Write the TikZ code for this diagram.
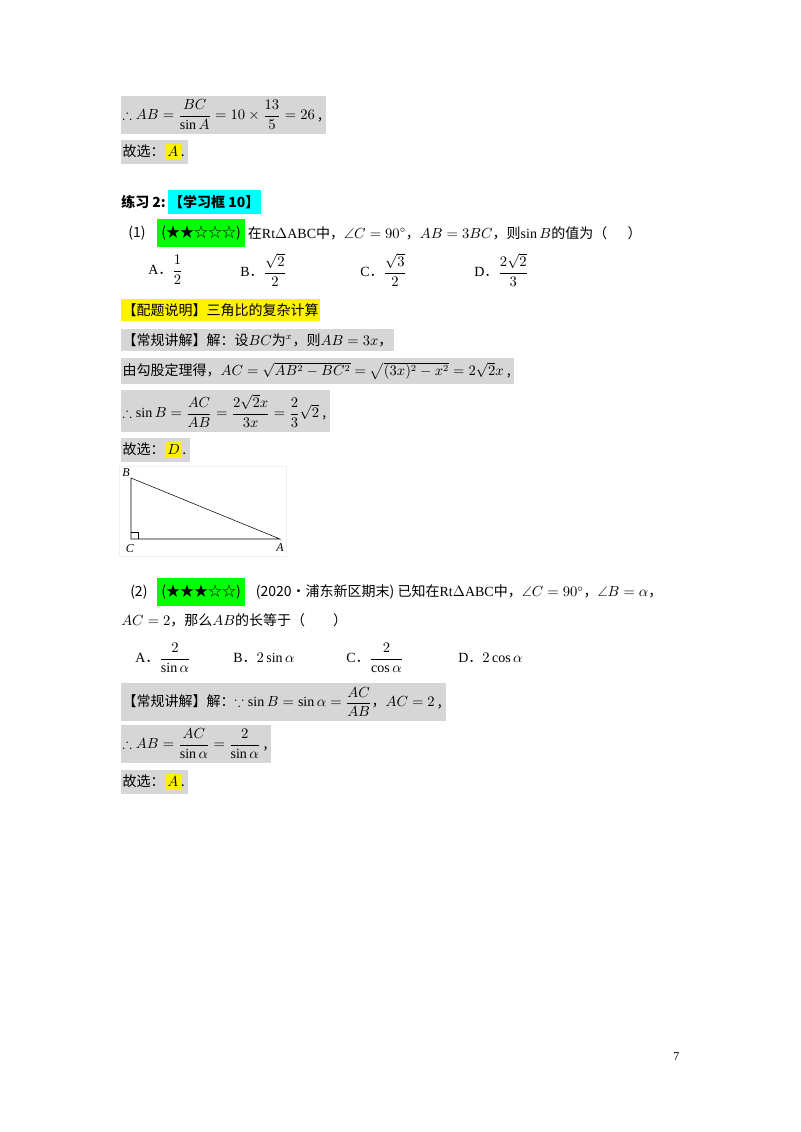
\documentclass[tikz,border=0pt]{standalone}
\usepackage{amsmath,amssymb}
\usepackage{fontspec}
\setmainfont{Liberation Serif}
\newfontfamily\cjk{Noto Sans CJK SC}
\usetikzlibrary{positioning}
\definecolor{boxgray}{gray}{0.84}
\definecolor{aqua}{RGB}{0,255,255}
\tikzset
{
    line/.style    = {anchor=west, inner sep=0pt, font=\fontsize{10.5}{12}\selectfont\cjk},
    graybox/.style = {line, fill=boxgray, inner xsep=1pt, inner ysep=3pt},
    yellowbox/.style = {line, fill=yellow, inner xsep=1pt, inner ysep=3pt},
    greenbox/.style = {line, fill=green, inner xsep=3pt, inner ysep=5pt},
    cyanbox/.style = {line, fill=aqua, inner xsep=1pt, inner ysep=4pt, font=\fontsize{10.5}{12}\selectfont\cjk\bfseries},
    vertex/.style  = {inner sep=0pt, font=\fontsize{9}{10}\selectfont\itshape}
}
\newcommand{\hlY}[1]{{\fboxsep=2pt\colorbox{yellow}{#1}}}
\newcommand{\rt}{{\rmfamily Rt$\Delta$ABC}}
\newcommand{\opt}[1]{{\rmfamily #1}．}

\begin{document}
\begin{tikzpicture}[x=0.75pt, y=-0.75pt]
\useasboundingbox (0,0) rectangle (800,1132);

% first solution tail
\node (s1) [graybox] at (121,115) {$\therefore AB=\dfrac{BC}{\sin A}=10\times\dfrac{13}{5}=26$ ,\,};
\node (c1) [graybox] at (121,152) {故选：\hlY{$A$}.\,};

% exercise header
\node (ex)  [line, font=\fontsize{10.5}{12}\selectfont\cjk\bfseries] at (121,202) {练习 2:};
\node (box) [cyanbox, right=1pt of ex] {【学习框 10】};

% question 1
\node (q1n) [line] at (128,233) {(1)};
\node (q1s) [greenbox] at (157,233) {(★★☆☆☆)};
\node (q1)  [line, right=2pt of q1s] {在\rt 中，$\angle C=90^\circ$，$AB=3BC$，则$\sin B$的值为（\quad\ \ ）};
\node (o1a) [line] at (148,270) {\opt{A}$\dfrac{1}{2}$};
\node (o1b) [line] at (240,270) {\opt{B}$\dfrac{\sqrt2}{2}$};
\node (o1c) [line] at (360,270) {\opt{C}$\dfrac{\sqrt3}{2}$};
\node (o1d) [line] at (474,270) {\opt{D}$\dfrac{2\sqrt2}{3}$};

\node (note) [yellowbox] at (121,310) {【配题说明】三角比的复杂计算};
\node (r1) [graybox] at (121,340) {【常规讲解】解：设$BC$为$^x$，则$AB=3x$，};
\node (r2) [graybox] at (121,371) {由勾股定理得，$AC=\sqrt{AB^2-BC^2}=\sqrt{(3x)^2-x^2}=2\sqrt2x$ ,\,};
\node (r3) [graybox] at (121,411) {$\therefore\sin B=\dfrac{AC}{AB}=\dfrac{2\sqrt2x}{3x}=\dfrac{2}{3}\sqrt2$ ,\,};
\node (c2) [graybox] at (121,450) {故选：\hlY{$D$}.\,};

% triangle
\coordinate (B) at (131,478);
\coordinate (C) at (131,539);
\coordinate (A) at (280,539);
\draw[gray!12] (119,466) rectangle (286,556);
\draw[thin] (B) -- (C) -- (A) -- cycle;
\draw[thin] (C) ++(0,-7) -- ++(7,0) -- ++(0,7);
\node (lB) [vertex] at (126,473) {B};
\node (lC) [vertex] at (130,549) {C};
\node (lA) [vertex] at (280,548) {A};

% question 2
\node (q2n) [line] at (130,592) {(2)};
\node (q2s) [greenbox] at (157,592) {(★★★☆☆)};
\node (q2)  [line, right=8pt of q2s] {(2020•浦东新区期末) 已知在\rt 中，$\angle C=90^\circ$，$\angle B=\alpha$，};
\node (q2b) [line] at (121,620) {$AC=2$，那么$AB$的长等于（\qquad ）};
\node (o2a) [line] at (135,658) {\opt{A}$\dfrac{2}{\sin\alpha}$};
\node (o2b) [line] at (233,658) {\opt{B}$2\sin\alpha$};
\node (o2c) [line] at (346,658) {\opt{C}$\dfrac{2}{\cos\alpha}$};
\node (o2d) [line] at (458,658) {\opt{D}$2\cos\alpha$};

\node (r4) [graybox] at (121,702) {【常规讲解】解：$\because\sin B=\sin\alpha=\dfrac{AC}{AB}$，$AC=2$ ,\,};
\node (r5) [graybox] at (121,744) {$\therefore AB=\dfrac{AC}{\sin\alpha}=\dfrac{2}{\sin\alpha}$ ,\,};
\node (c3) [graybox] at (121,782) {故选：\hlY{$A$}.\,};

\node (page) [line, font=\fontsize{9}{10}\selectfont] at (673,1057) {7};
\end{tikzpicture}
\end{document}
